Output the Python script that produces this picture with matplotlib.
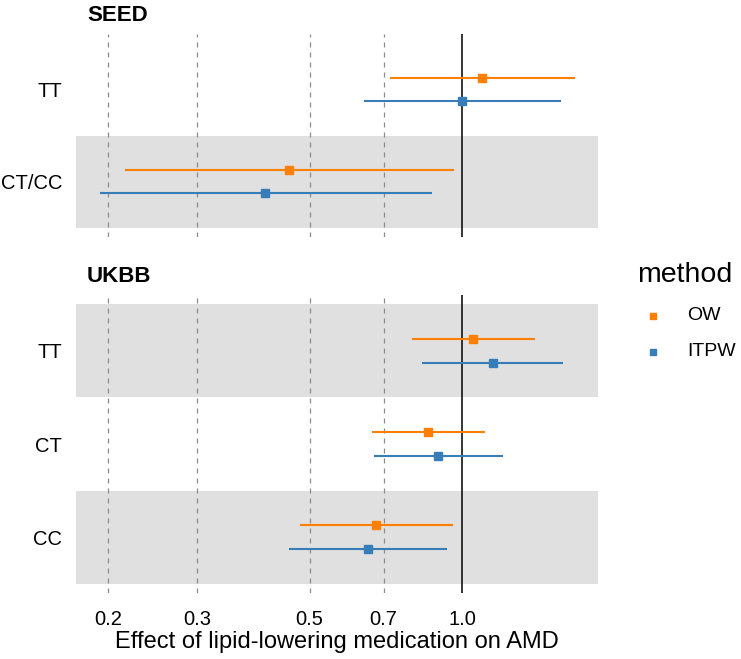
import matplotlib.pyplot as plt
import numpy as np

plt.rcParams['font.family'] = ['Liberation Sans', 'DejaVu Sans']

# data (effects on a log scale)
methods = ["OW", "ITPW"]
colors = {"OW": "#FF7F00", "ITPW": "#377EB8"}

seed_groups = ["TT", "CT/CC"]
seed_est = {"OW": [1.095, 0.455], "ITPW": [1.00, 0.409]}
seed_lo = {"OW": [0.72, 0.216], "ITPW": [0.64, 0.193]}
seed_hi = {"OW": [1.67, 0.964], "ITPW": [1.566, 0.872]}

ukbb_groups = ["TT", "CT", "CC"]
ukbb_est = {"OW": [1.049, 0.857, 0.676], "ITPW": [1.15, 0.898, 0.653]}
ukbb_lo = {"OW": [0.795, 0.663, 0.479], "ITPW": [0.835, 0.67, 0.455]}
ukbb_hi = {"OW": [1.39, 1.112, 0.96], "ITPW": [1.58, 1.204, 0.936]}

xticks = [0.2, 0.3, 0.5, 0.7, 1.0]
xticklabels = ["0.2", "0.3", "0.5", "0.7", "1.0"]

fig = plt.figure(figsize=(7.41, 6.59), dpi=100)
W, H = 741, 659
left, right = 76, 598


def fx(px):
    return px / W


def fy(py):
    return 1 - py / H


def make_ax(top, bottom):
    return fig.add_axes([fx(left), fy(bottom), (right - left) / W, (bottom - top) / H])


def draw_panel(ax, groups, est, lo, hi, show_x):
    n = len(groups)
    ypos = np.arange(n, 0, -1)  # first group on top
    ax.set_xscale('log')
    ax.set_xlim(0.173, 1.855)
    ax.set_ylim(0.4, n + 0.6)
    for y in ypos:
        if y % 2 == 1:
            ax.axhspan(y - 0.5, y + 0.5, color="#E0E0E0", lw=0, zorder=0)
    for x in xticks[:-1]:
        ax.axvline(x, color="#8C8C8C", ls=(0, (4, 4)), lw=0.9, zorder=1)
    ax.axvline(1.0, color="black", lw=1.1, zorder=1)
    offs = {"OW": 0.125, "ITPW": -0.125}
    for m in methods:
        yy = ypos + offs[m]
        ax.hlines(yy, lo[m], hi[m], color=colors[m], lw=1.5, zorder=3)
        ax.plot(est[m], yy, 's', color=colors[m], ms=6, zorder=4)
    ax.set_yticks(ypos)
    ax.set_yticklabels(groups, fontsize=14.5)
    ax.set_xticks(xticks)
    ax.minorticks_off()
    ax.tick_params(length=0, pad=10)
    if show_x:
        ax.set_xticklabels(xticklabels, fontsize=14.5)
        ax.tick_params(axis='x', pad=12)
        ax.set_xlabel("Effect of lipid-lowering medication on AMD", fontsize=17, labelpad=2)
    else:
        ax.set_xticklabels([])
    for s in ax.spines.values():
        s.set_visible(False)


ax1 = make_ax(34, 237)
draw_panel(ax1, seed_groups, seed_est, seed_lo, seed_hi, False)
ax2 = make_ax(295, 593)
draw_panel(ax2, ukbb_groups, ukbb_est, ukbb_lo, ukbb_hi, True)

# facet titles
fig.text(fx(87), fy(21), "SEED", fontsize=16, fontweight='bold', va='baseline')
fig.text(fx(87), fy(282), "UKBB", fontsize=16, fontweight='bold', va='baseline')

# legend
fig.text(fx(637), fy(282), "method", fontsize=20.5, va='baseline')
for m, ky in zip(methods, [316, 352]):
    fig.lines.append(plt.Line2D([fx(653)], [fy(ky)], marker='s', ms=4, ls='none',
                                color=colors[m], transform=fig.transFigure))
    fig.text(fx(687), fy(ky), m, fontsize=14, va='center')

fig.savefig("out.png", dpi=100)
